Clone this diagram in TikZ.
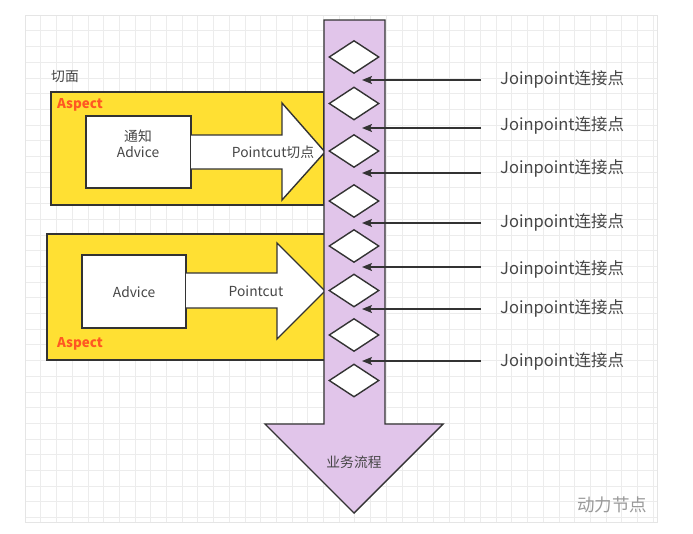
\documentclass[tikz,border=0pt]{standalone}
\usepackage{fontspec}
\setmainfont{Noto Sans CJK SC}
\usepackage{xcolor}
\definecolor{aopyellow}{RGB}{255,224,51}
\definecolor{aoppurple}{RGB}{225,197,234}
\definecolor{aopline}{RGB}{51,51,51}
\definecolor{aoptext}{RGB}{70,70,70}
\definecolor{aoporange}{RGB}{255,87,34}
\definecolor{aopgrid}{RGB}{236,236,236}
\usetikzlibrary{arrows.meta,positioning,shapes.geometric,calc}

\begin{document}
\begin{tikzpicture}[x=1pt,y=-1pt,
  gridline/.style={aopgrid,line width=0.6pt},
  aspectbox/.style={draw=aopline,fill=aopyellow,line width=1.4pt,inner sep=0pt},
  advbox/.style={draw=aopline,fill=white,line width=1.4pt,inner sep=0pt},
  fatarrow/.style={draw=aopline,fill=white,line width=1.4pt,line join=miter},
  jp/.style={diamond,draw=aopline,fill=white,line width=1.4pt,minimum width=50pt,minimum height=33pt,inner sep=0pt},
  jplabel/.style={font=\fontsize{16.5}{19}\selectfont,text=aoptext,inner sep=0pt,anchor=west},
  jparrow/.style={draw=aopline,line width=1.4pt,-{Stealth[length=10pt,width=8pt,inset=2pt]}},
  txt/.style={font=\fontsize{13.8}{16}\selectfont,text=aoptext,inner sep=0pt},
  asptxt/.style={font=\fontsize{13.4}{16}\selectfont\bfseries,text=aoporange,inner sep=0pt,anchor=west}]
  \useasboundingbox (0,0) rectangle (693,533);
  \fill[white] (0,0) rectangle (693,533);
  % grid panel
  \foreach \gx in {25,40.7,...,657} \draw[gridline] (\gx,15) -- (\gx,522);
  \foreach \gy in {15,30.7,...,522} \draw[gridline] (25,\gy) -- (657,\gy);
  \draw[black!10] (25,15) rectangle (657,522);
  % aspects
  \node[aspectbox,minimum width=273pt,minimum height=113pt] (aspect1) at (187.5,148.5) {};
  \node[advbox,minimum width=105pt,minimum height=72pt] (advice1) at (138.5,152) {};
  \draw[fatarrow] (191,135) -- (282,135) -- (282,103) -- (325,152) -- (282,200) -- (282,169) -- (191,169);
  \node[txt,align=center] (advtxt1) at (138,144) {通知\\Advice};
  \node[txt] (cut1) at (273,152) {Pointcut切点};
  \node[txt,anchor=west] (aspname) at (51,77) {切面};
  \node[asptxt] (asp1lbl) at (57,105) {Aspect};

  \node[aspectbox,minimum width=278pt,minimum height=126pt] (aspect2) at (186,297) {};
  \node[advbox,minimum width=104pt,minimum height=73pt] (advice2) at (134,291.5) {};
  \draw[fatarrow] (186,273) -- (277,273) -- (277,243) -- (325,291) -- (277,339) -- (277,308) -- (186,308);
  \node[txt] (advtxt2) at (134,292) {Advice};
  \node[txt] (cut2) at (256,291) {Pointcut};
  \node[asptxt] (asp2lbl) at (57,344) {Aspect};

  % business flow
  \draw[draw=aopline,fill=aoppurple,line width=1.4pt,line join=miter]
    (324,20) -- (385,20) -- (385,424) -- (443,424) -- (354,513) -- (265,424) -- (324,424) -- cycle;
  \node[txt] (flow) at (354,462) {业务流程};
  \foreach \i/\y in {1/57,2/103.5,3/151,4/201,5/246,6/290.5,7/335,8/380.5}
    \node[jp] (jp\i) at (354,\y) {};

  % join points
  \foreach \i/\ya/\yl in {1/80/79,2/128/125,3/173/168,4/223/222,5/267/269,6/309/308,7/361/361}{
    \node[jplabel] (lab\i) at (500,\yl) {Joinpoint连接点};
    \coordinate (src\i) at (481,\ya);
    \coordinate (hit\i) at (362,\ya);
    \draw[jparrow] (src\i) -- (hit\i);
  }

  \node[font=\fontsize{17.5}{20}\selectfont,text=black!40] (mark) at (612,505) {动力节点};
\end{tikzpicture}
\end{document}
